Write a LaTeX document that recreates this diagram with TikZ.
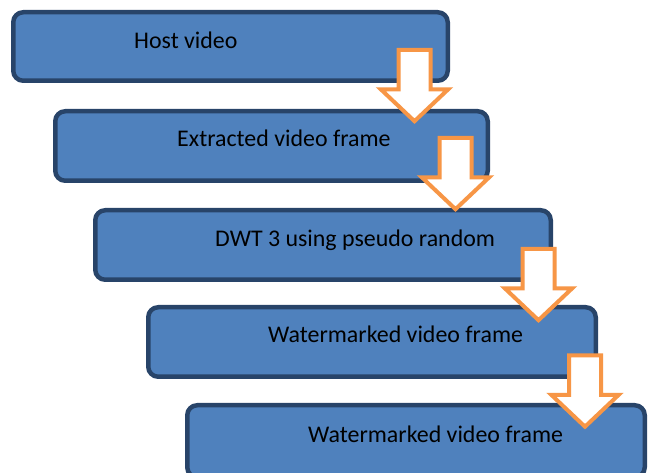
\documentclass[tikz,border=0pt]{standalone}
\usepackage{fontspec}
\setmainfont{Carlito}
\definecolor{boxfill}{HTML}{4F81BD}
\definecolor{boxline}{HTML}{284469}
\definecolor{arrorange}{HTML}{F79646}
\begin{document}
\begin{tikzpicture}[x=1pt,y=-1pt,
  box/.style={draw=boxline, fill=boxfill, line width=4.5pt, rounded corners=10pt,
    rectangle, anchor=north west, inner sep=0pt, outer sep=0pt},
  lbl/.style={anchor=base west, inner sep=0pt, text=black,
    font=\fontsize{23.9}{28}\selectfont},
  arrowshape/.style={draw=arrorange, fill=white, line width=4pt, miter limit=10},
  blockarrow/.pic={
    \path[arrowshape] (-16,2) -- (16,2) -- (16,41.5) -- (33.5,41.5)
      -- (0,73.2) -- (-33.5,41.5) -- (-16,41.5) -- cycle;
  }]
\clip (0,0) rectangle (649,473);
\fill[white] (0,0) rectangle (649,473);
% boxes (outer extents inset by half the line width)
\node[box, minimum width=434.5pt, minimum height=68.5pt] (b1) at (13.25,12.25) {};
\node[box, minimum width=432.5pt, minimum height=69.5pt] (b2) at (55.25,111.25) {};
\node[box, minimum width=455.5pt, minimum height=69.5pt] (b3) at (95.25,210.25) {};
\node[box, minimum width=447.5pt, minimum height=69.5pt] (b4) at (148.25,307.25) {};
\node[box, minimum width=457.5pt, minimum height=72pt] (b5) at (187.25,405.25) {};
% texts
\node[lbl] (t1) at (134,49) {Host video};
\node[lbl] (t2) at (177,147) {Extracted video frame};
\node[lbl] (t3) at (215,247) {DWT 3 using pseudo random};
\node[lbl] (t4) at (268,343) {Watermarked video frame};
\node[lbl] (t5) at (308,443) {Watermarked video frame};
% block arrows
\pic at (414.5,48) {blockarrow};
\pic at (455.5,136) {blockarrow};
\pic at (538.5,247) {blockarrow};
\pic at (585,353.5) {blockarrow};
\end{tikzpicture}
\end{document}
